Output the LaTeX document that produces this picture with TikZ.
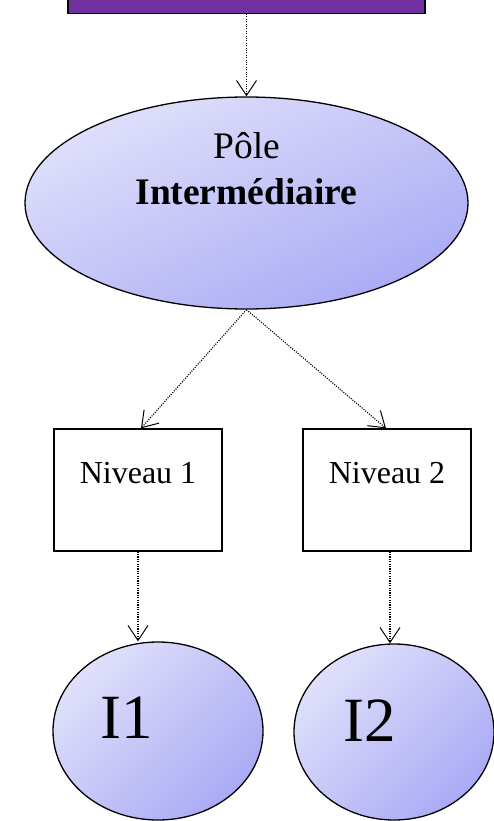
\documentclass[tikz,border=0pt]{standalone}
\usepackage{fontspec}
\setmainfont{Liberation Serif}
\usetikzlibrary{shapes.geometric,arrows.meta,positioning}
\definecolor{poleviolet}{RGB}{112,48,160}
\definecolor{bullepale}{RGB}{224,224,251}
\definecolor{bullefonce}{RGB}{170,170,245}

\begin{document}
\begin{tikzpicture}[x=1pt,y=1pt,
    fleche/.style={dash pattern=on 1.1pt off 1.3pt, line width=1.1pt, -{Straight Barb[length=15pt,width=20pt,line width=1pt]}},
    bulle/.style={ellipse, draw, line width=1.3pt, top color=bullepale, bottom color=bullefonce, shading angle=45, inner sep=0pt},
    niveau/.style={rectangle, draw, line width=1.3pt, fill=white, minimum width=168pt, minimum height=122pt}]
  \useasboundingbox (0,0) rectangle (493,-821);
  \node[draw, fill=poleviolet, line width=1.3pt, minimum width=357pt, minimum height=60pt, anchor=south] (TOP) at (246.5,-14) {};
  \node[bulle, shading angle=25, minimum width=443pt, minimum height=212pt] (POLE) at (246.5,-203) {};
  \node[align=center, font=\fontsize{37.5}{46}\selectfont] (POLETXT) at ([yshift=34]POLE.center) {Pôle\\\textbf{Intermédiaire}};
    \begin{scope}[every node/.style={niveau}]
  \node (NIV1) at (138,-490) {};
  \node (NIV2) at (387,-490) {};
    \end{scope}
  \node[font=\fontsize{32}{38}\selectfont] (NIV1TXT) at ([yshift=17]NIV1.center) {Niveau 1};
  \node[font=\fontsize{32}{38}\selectfont] (NIV2TXT) at ([yshift=17]NIV2.center) {Niveau 2};
  \node[bulle, minimum width=210pt, minimum height=178pt] (I1) at (158,-731) {};
  \node[bulle, minimum width=200pt, minimum height=176pt] (I2) at (394,-732) {};
  \node[font=\fontsize{63}{68}\selectfont] (I1TXT) at ([xshift=-31,yshift=13]I1.center) {I1};
  \node[font=\fontsize{63}{68}\selectfont] (I2TXT) at ([xshift=-24,yshift=11]I2.center) {I2};
  % liaisons
  \draw[fleche] (TOP.south) -- (POLE.north);
  \draw[fleche] (POLE.south) -- ([xshift=3]NIV1.north);
  \draw[fleche] (POLE.south) -- ([xshift=-1]NIV2.north);
  \draw[fleche] (NIV1.south) -- (NIV1.south |- I1.north);
  \draw[fleche] ([xshift=3]NIV2.south) -- ([xshift=3]NIV2.south |- I2.north);
\end{tikzpicture}
\end{document}
